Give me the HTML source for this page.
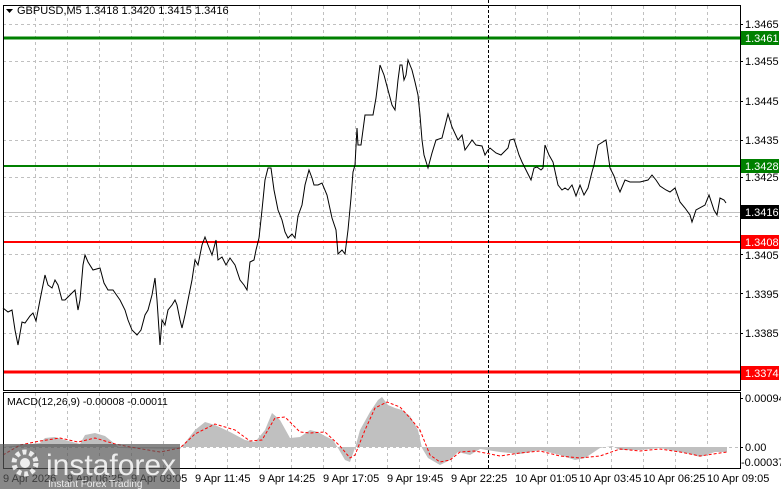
<!DOCTYPE html>
<html><head><meta charset="utf-8"><style>
html,body{margin:0;padding:0;background:#fff;}
svg{display:block;font-family:"Liberation Sans","DejaVu Sans",sans-serif;}
</style></head><body>
<svg width="781" height="489" viewBox="0 0 781 489" xmlns="http://www.w3.org/2000/svg">
<rect width="781" height="489" fill="#fff"/>
<g stroke="#c0c0c0" stroke-dasharray="3,3" stroke-width="1">
<path d="M35.5 6V390M67.5 6V390M99.5 6V390M131.5 6V390M163.5 6V390M195.5 6V390M227.5 6V390M259.5 6V390M291.5 6V390M323.5 6V390M355.5 6V390M387.5 6V390M419.5 6V390M451.5 6V390M515.5 6V390M547.5 6V390M579.5 6V390M611.5 6V390M643.5 6V390M675.5 6V390M707.5 6V390"/>
<path d="M35.5 393V468M67.5 393V468M99.5 393V468M131.5 393V468M163.5 393V468M195.5 393V468M227.5 393V468M259.5 393V468M291.5 393V468M323.5 393V468M355.5 393V468M387.5 393V468M419.5 393V468M451.5 393V468M515.5 393V468M547.5 393V468M579.5 393V468M611.5 393V468M643.5 393V468M675.5 393V468M707.5 393V468"/>
<path d="M3 24.5H740M3 61.5H740M3 101.5H740M3 140.5H740M3 177.5H740M3 216.5H740M3 254.5H740M3 293.5H740M3 333.5H740"/>
<path d="M3 447.5H740"/>
</g>
<line x1="3" y1="212.5" x2="740" y2="212.5" stroke="#c0c0c0"/>
<line x1="3" y1="38" x2="740" y2="38" stroke="#008000" stroke-width="3"/>
<line x1="3" y1="166" x2="740" y2="166" stroke="#008000" stroke-width="2"/>
<line x1="3" y1="242" x2="740" y2="242" stroke="#ff0000" stroke-width="2"/>
<line x1="3" y1="372" x2="740" y2="372" stroke="#ff0000" stroke-width="3"/>
<line x1="488.5" y1="0" x2="488.5" y2="468" stroke="#000" stroke-dasharray="3,2"/>
<polyline fill="none" stroke="#000" stroke-width="1" points="3,308 8,312 12,310 15,330 18,345 22,322 25,323 30,316 33,313 36,321 40,300 45,275 48,285 52,288 55,280 58,285 62,300 65,300 70,295 75,290 78,310 80,300 83,265 85,255 88,262 93,270 100,268 104,283 108,290 113,290 120,300 125,310 128,320 132,330 137,335 141,330 145,315 148,310 152,295 155,278 157,300 160,345 162,320 165,325 168,310 172,305 175,300 177,305 180,320 182,328 185,315 188,300 192,280 195,260 198,265 202,245 205,237 208,245 212,255 216,240 218,260 222,257 226,265 230,258 235,265 240,280 244,285 247,290 250,262 254,260 256,250 259,238 262,210 265,180 268,168 271,168 274,190 278,210 282,220 285,232 288,238 292,234 295,238 298,216 302,205 305,185 309,170 312,178 314,185 318,185 322,183 327,195 332,218 336,230 338,254 342,250 345,254 348,230 351,198 353,172 355,165 357,128 358,145 361,145 365,115 373,115 376,98 380,65 384,75 388,90 392,105 395,110 398,80 400,65 402,65 404,80 406,75 408,60 410,65 412,70 415,82 418,95 420,115 422,140 424,155 428,168 432,153 436,140 442,138 448,114 452,127 458,140 462,135 465,150 470,143 472,140 476,145 482,146 485,155 488,150 490,148 496,153 501,155 508,148 510,140 514,139 519,155 522,162 527,172 531,180 534,168 537,167 541,170 543,168 545,145 549,155 553,162 558,185 562,190 565,188 568,190 572,185 576,196 580,185 584,195 588,188 592,172 594,165 596,155 598,145 606,140 610,168 614,176 617,185 620,192 625,180 630,182 640,182 648,180 652,175 656,180 660,186 666,190 670,192 675,188 680,202 685,208 690,215 692,222 696,210 705,205 709,195 714,210 717,215 720,198 724,200 726,203"/>
<polygon fill="#c0c0c0" points="3,447 40,443 45,438 55,437 65,440 80,444 85,435 95,433 105,436 115,444 120,448 180,449 195,430 205,422 215,425 230,432 245,440 255,442 265,430 272,413 280,420 290,438 300,437 310,430 318,432 325,436 333,440 338,448 345,460 350,462 355,448 360,430 370,412 378,400 382,397 388,405 395,408 402,410 410,416 418,430 422,448 428,458 440,465 450,460 458,452 470,455 480,449 500,452 520,454 540,450 560,455 575,460 585,458 600,448 612,446 620,450 640,450 660,448 690,454 700,457 715,452 727,452 727,447 3,447"/>
<polyline fill="none" stroke="#ff0000" stroke-dasharray="3,2" points="3,455 20,445 40,441 60,438 78,442 95,438 115,444 130,447 160,452 180,448 195,434 215,424 235,430 250,441 262,440 275,418 285,417 300,432 310,433 325,432 340,446 350,458 355,455 365,430 375,408 387,402 400,407 410,418 420,430 430,455 440,462 450,460 460,452 475,451 500,456 520,453 540,451 560,456 580,458 600,456 620,449 640,451 660,449 680,452 700,456 720,453 727,452"/>
<rect x="3.5" y="5.5" width="737" height="385" fill="none" stroke="#000"/>
<rect x="3.5" y="392.5" width="737" height="76" fill="none" stroke="#000"/>
<g font-size="11" fill="#000">
<text x="745" y="28">1.3465</text>
<text x="745" y="65">1.3455</text>
<text x="745" y="105">1.3445</text>
<text x="745" y="144">1.3435</text>
<text x="745" y="181">1.3425</text>
<text x="745" y="259">1.3405</text>
<text x="745" y="298">1.3395</text>
<text x="745" y="337">1.3385</text>
<text x="745" y="402">0.00094</text>
<text x="745" y="451">0.00</text>
<text x="741" y="466">-0.00037</text>
</g>
<g stroke="#000"><path d="M740 24.5h3M740 61.5h3M740 101.5h3M740 140.5h3M740 177.5h3M740 216.5h3M740 254.5h3M740 293.5h3M740 333.5h3M740 398.5h3M740 447.5h3"/></g>
<rect x="741" y="31" width="38" height="14" fill="#008000"/><text x="745" y="42" font-size="11" fill="#fff">1.3461</text>
<rect x="741" y="159" width="38" height="14" fill="#008000"/><text x="745" y="170" font-size="11" fill="#fff">1.3428</text>
<rect x="741" y="205" width="38" height="14" fill="#000"/><text x="745" y="216" font-size="11" fill="#fff">1.3416</text>
<rect x="741" y="235" width="38" height="14" fill="#ff0000"/><text x="745" y="246" font-size="11" fill="#fff">1.3408</text>
<rect x="741" y="366" width="38" height="14" fill="#ff0000"/><text x="745" y="377" font-size="11" fill="#fff">1.3374</text>
<path d="M6 9h7l-3.5 4z" fill="#000"/>
<text x="17" y="14" font-size="11" fill="#000">GBPUSD,M5  1.3418 1.3420 1.3415 1.3416</text>
<text x="7" y="405" font-size="10.5" fill="#000">MACD(12,26,9) -0.00008 -0.00011</text>
<g font-size="11" fill="#000">
<text x="3" y="482">9 Apr 2026</text>
<text x="67" y="482">9 Apr 06:25</text>
<text x="131" y="482">9 Apr 09:05</text>
<text x="195" y="482">9 Apr 11:45</text>
<text x="259" y="482">9 Apr 14:25</text>
<text x="323" y="482">9 Apr 17:05</text>
<text x="387" y="482">9 Apr 19:45</text>
<text x="451" y="482">9 Apr 22:25</text>
<text x="515" y="482">10 Apr 01:05</text>
<text x="579" y="482">10 Apr 03:45</text>
<text x="643" y="482">10 Apr 06:25</text>
<text x="707" y="482">10 Apr 09:05</text>
</g>
<rect x="0" y="444" width="180" height="45" fill="#555" fill-opacity="0.7"/>
<circle cx="25" cy="463" r="11" fill="none" stroke="#fff" stroke-width="5" stroke-dasharray="4,3" opacity="0.85"/>
<circle cx="25" cy="463" r="5" fill="#fff" opacity="0.85"/>
<text x="46" y="475" font-size="30" fill="#fff" fill-opacity="0.85">instaforex</text>
<text x="48" y="487" font-size="10" fill="#fff" fill-opacity="0.85">Instant Forex Trading</text>
</svg>
</body></html>
